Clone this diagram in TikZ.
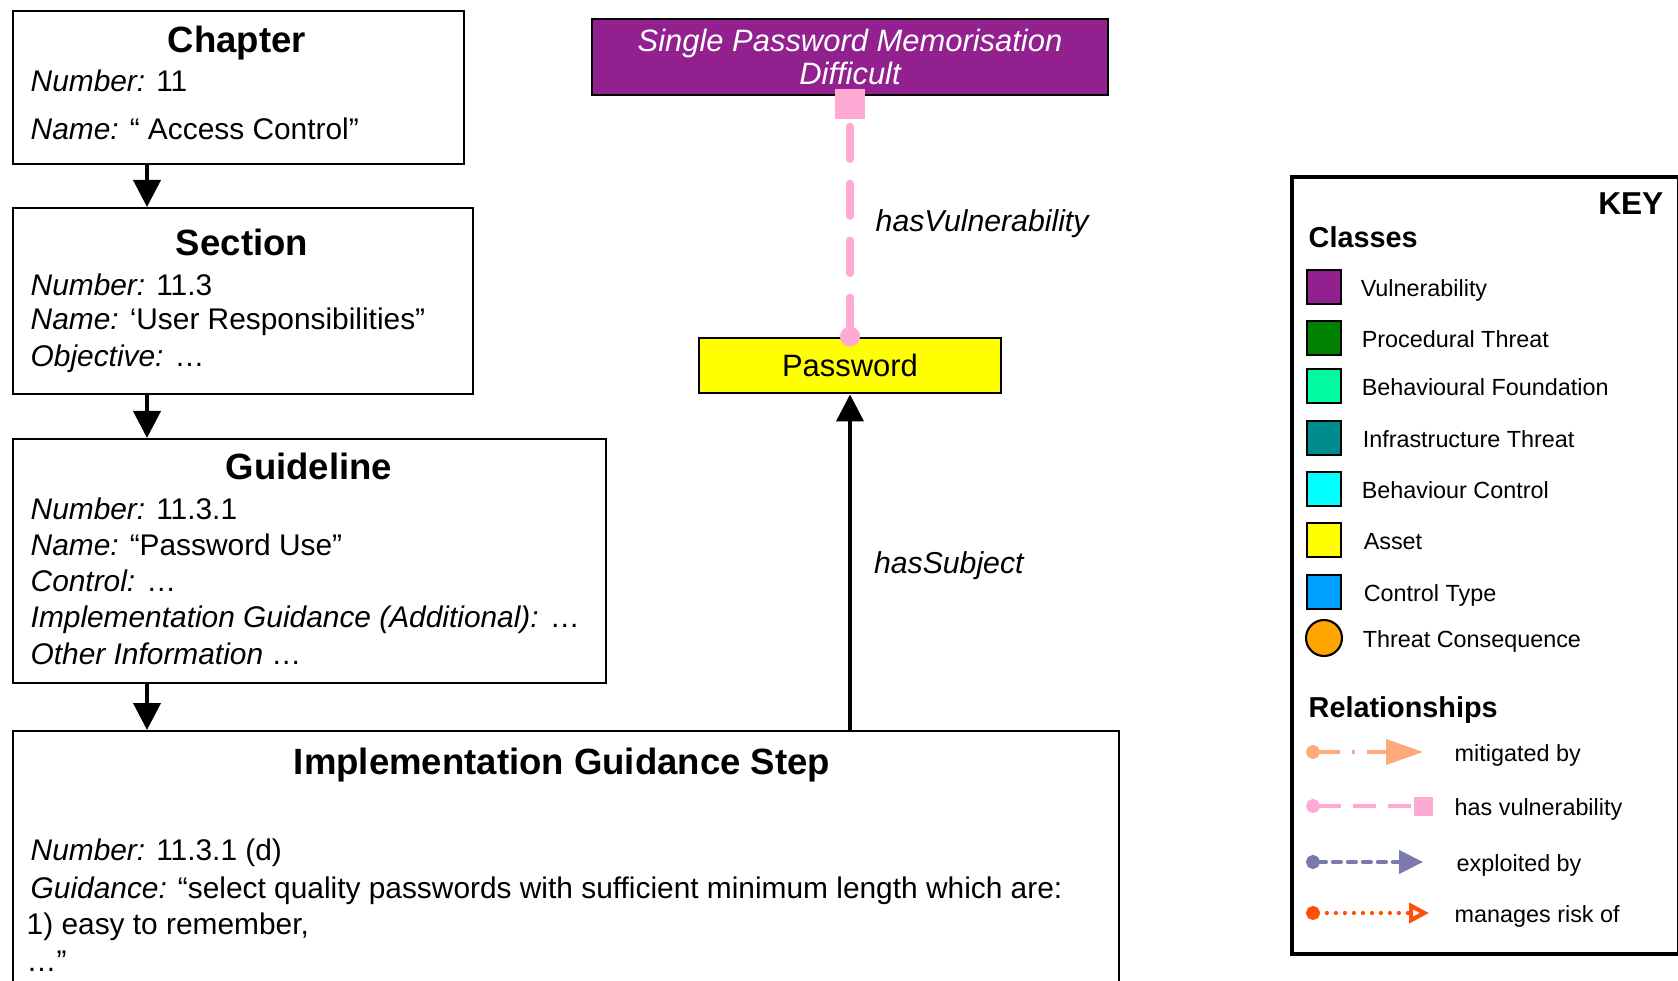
\documentclass[tikz,border=0pt]{standalone}
\usepackage{fontspec}
\setmainfont{Liberation Sans}
\usetikzlibrary{positioning, arrows.meta}

\definecolor{vulnpurple}{RGB}{146,32,143}
\definecolor{procgreen}{RGB}{0,128,0}
\definecolor{behfound}{RGB}{0,250,160}
\definecolor{infrateal}{RGB}{0,140,140}
\definecolor{behctrl}{RGB}{0,255,255}
\definecolor{assetyellow}{RGB}{255,255,0}
\definecolor{ctrltype}{RGB}{0,160,255}
\definecolor{consorange}{RGB}{255,165,0}
\definecolor{mitpeach}{RGB}{255,170,122}
\definecolor{vulnpink}{RGB}{255,170,212}
\definecolor{exploblue}{RGB}{122,122,172}
\definecolor{riskorange}{RGB}{255,80,10}

\begin{document}
\begin{tikzpicture}[
    x=0.1mm, y=-0.1mm,
    >={Triangle[length=2.7mm, width=2.7mm]},
    box/.style={draw, line width=0.6pt, anchor=north west, inner sep=0pt},
    ttl/.style={anchor=base, inner sep=0pt, font=\fontsize{10.4}{12}\selectfont\bfseries},
    txt/.style={anchor=base west, inner sep=0pt, font=\fontsize{8.5}{10}\selectfont},
    cls/.style={rectangle, draw, line width=0.6pt, fill=#1, minimum size=3.4mm, inner sep=0pt},
    key/.style={inner sep=0pt, font=\fontsize{6.65}{8}\selectfont},
    keyhd/.style={anchor=base west, inner sep=0pt, font=\fontsize{8.2}{10}\selectfont\bfseries},
    lbl/.style={inner sep=0pt, text=black, font=\fontsize{8.6}{10}\selectfont\itshape},
    arr/.style={->, line width=1.15pt},
    rel/.style={line width=0.42mm, #1}
]
\useasboundingbox (0,0) rectangle (1678,981);
\clip (0,0) rectangle (1678,981);

% standard hierarchy
\node[box, minimum width=45.1mm, minimum height=15.3mm] (chap) at (12,10) {};
\node[ttl] (chapttl) at (237,53) {Chapter};
\node[txt] (chapnum) at (30,92) {\textit{Number:} 11};
\node[txt] (chapname) at (30,140) {\textit{Name:} “ Access Control”};

\node[box, minimum width=46mm, minimum height=18.6mm] (sec) at (12,207) {};
\node[ttl] (secttl) at (242,256) {Section};
\node[txt] (secnum) at (30,296) {\textit{Number:} 11.3};
\node[txt] (secname) at (30,330) {\textit{Name:} ‘User Responsibilities”};
\node[txt] (secobj) at (30,367) {\textit{Objective:} \ldots};

\node[box, minimum width=59.3mm, minimum height=24.4mm] (gl) at (12,438) {};
\node[ttl] (glttl) at (309,480) {Guideline};
\node[txt] (glnum) at (30,520) {\textit{Number:} 11.3.1};
\node[txt] (glname) at (30,555) {\textit{Name:} “Password Use”};
\node[txt] (glctrl) at (30,591) {\textit{Control:} \ldots};
\node[txt] (glimpl) at (30,628) {\textit{Implementation Guidance (Additional):} \ldots};
\node[txt] (glother) at (30,665) {\textit{Other Information} \ldots};

\node[box, minimum width=110.6mm, minimum height=30mm] (igs) at (12,730) {};
\node[ttl] (igsttl) at (562,775) {Implementation Guidance Step};
\node[txt] (igsnum) at (30,860) {\textit{Number:} 11.3.1 (d)};
\node[txt] (igsguid) at (30,898) {\textit{Guidance:} “select quality passwords with sufficient minimum length which are:};
\node[txt] (igsone) at (26,934) {1) easy to remember,};
\node[txt] (igsdots) at (26,971) {\ldots”};

% ontology classes
\node[box, anchor=center, line width=0.8pt, fill=vulnpurple, minimum width=51.6mm, minimum height=7.6mm,
      align=center, text=white, font=\fontsize{8.8}{9.4}\selectfont\itshape] (vuln) at (850,57)
      {Single Password Memorisation\\Difficult};
\node[box, anchor=center, line width=0.8pt, fill=assetyellow, minimum width=30.2mm, minimum height=5.5mm,
      font=\fontsize{8.8}{10}\selectfont] (pw) at (850,365.5) {Password};

\coordinate (spine) at (147,0);
\draw[arr] (chap.south -| spine) -- (sec.north -| spine);
\draw[arr] (sec.south -| spine) -- (gl.north -| spine);
\draw[arr] (gl.south -| spine) -- (igs.north -| spine);
\draw[arr] (igs.north -| pw.south) -- node[lbl, right=2.2mm, pos=0.49] {hasSubject} (pw.south);

\draw[vulnpink, line width=2.1pt, line cap=round, dash pattern=on 3.3mm off 2.4mm,
      {Circle[length=2mm]}-{Square[length=3mm, width=3mm]}, shorten <=-1mm, shorten >=-0.7mm]
      (pw.north) -- node[lbl, right=2.2mm, pos=0.47] {hasVulnerability} (vuln.south);

% key
\node[box, line width=1.1pt, minimum width=38.7mm, minimum height=77.7mm] (keybox) at (1290,175) {};
\node[anchor=base east, inner sep=0pt, font=\fontsize{9}{10}\selectfont\bfseries] (keyttl) at (1664,215) {KEY};
\node[keyhd] (classes) at (1308,248) {Classes};

\node[cls=vulnpurple] (kvuln) at (1324,287) {};
\node[cls=procgreen] (kproc) at (1324,338) {};
\node[cls=behfound] (kfound) at (1324,386) {};
\node[cls=infrateal] (kinfra) at (1324,438) {};
\node[cls=behctrl] (kbctrl) at (1324,489) {};
\node[cls=assetyellow] (kasset) at (1324,540) {};
\node[cls=ctrltype] (kctype) at (1324,592) {};
\node[circle, draw, line width=0.6pt, fill=consorange, minimum size=3.6mm, inner sep=0pt] (kcons) at (1324,638) {};

\node[key, right=1.8mm of kvuln, anchor=mid west] (kvulnl) {Vulnerability};
\node[key, right=1.9mm of kproc, anchor=mid west] (kprocl) {Procedural Threat};
\node[key, right=1.9mm of kfound, anchor=mid west] (kfoundl) {Behavioural Foundation};
\node[key, right=2.0mm of kinfra, anchor=mid west] (kinfral) {Infrastructure Threat};
\node[key, right=1.9mm of kbctrl, anchor=mid west] (kbctrll) {Behaviour Control};
\node[key, right=2.1mm of kasset, anchor=mid west] (kassetl) {Asset};
\node[key, right=2.1mm of kctype, anchor=mid west] (kctypel) {Control Type};
\node[key, right=1.9mm of kcons, anchor=mid west] (kconsl) {Threat Consequence};

\node[keyhd] (rels) at (1308,717) {Relationships};

\coordinate (mita) at (1306,752);  \coordinate (mitb) at (1423,752);
\coordinate (hasa) at (1306,806);  \coordinate (hasb) at (1433,806);
\coordinate (expa) at (1306,862);  \coordinate (expb) at (1423,862);
\coordinate (riska) at (1306,913); \coordinate (riskb) at (1429,913);

\draw[rel=mitpeach, dash pattern=on 2.2mm off 1.2mm on 0.3mm off 1.2mm,
      {Circle[length=1.4mm]}-{Triangle[length=3.7mm, width=2.5mm]}] (mita) -- (mitb);
\draw[rel=vulnpink, dash pattern=on 2.3mm off 1.2mm,
      {Circle[length=1.4mm]}-{Square[length=1.9mm, width=1.9mm]}] (hasa) -- (hasb);
\draw[rel=exploblue, line cap=round, dash pattern=on 0.8mm off 0.7mm,
      {Circle[length=1.4mm]}-{Triangle[length=2.4mm, width=2.3mm]}] (expa) -- (expb);
\draw[rel=riskorange, line cap=round, dash pattern=on 0pt off 0.9mm,
      {Circle[length=1.4mm]}-{Triangle[open, length=2mm, width=2mm, line width=1.2pt]}] (riska) -- (riskb);

\node[key, anchor=mid west] (mitl) at (1454,752) {mitigated by};
\node[key, anchor=mid west] (hasl) at (1454,806) {has vulnerability};
\node[key, anchor=mid west] (expl) at (1456,862) {exploited by};
\node[key, anchor=mid west] (riskl) at (1454,913) {manages risk of};

\end{tikzpicture}
\end{document}
